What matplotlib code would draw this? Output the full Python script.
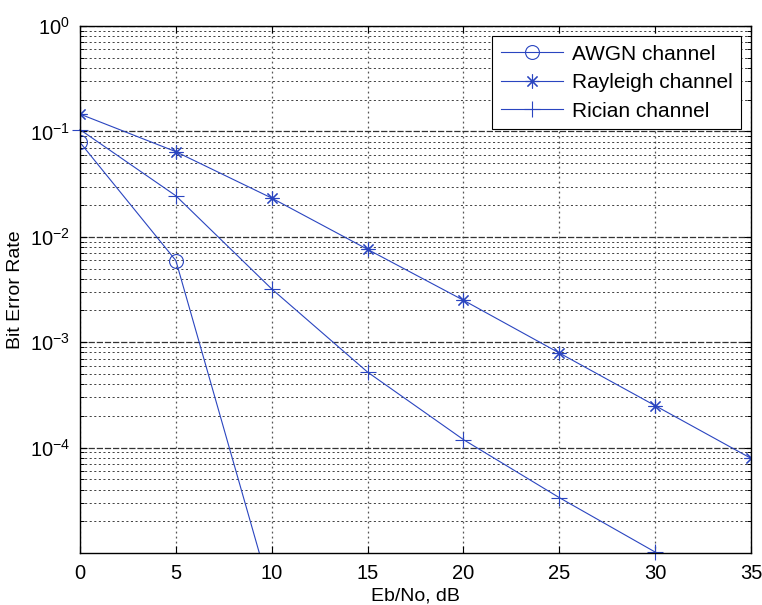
import numpy as np
import matplotlib
matplotlib.use('Agg')
import matplotlib.pyplot as plt
from matplotlib.ticker import LogLocator, NullFormatter, LogFormatterSciNotation

plt.rcParams['font.family'] = ['Liberation Sans', 'DejaVu Sans']
plt.rcParams['mathtext.fontset'] = 'custom'
plt.rcParams['mathtext.rm'] = 'Liberation Sans'
plt.rcParams['mathtext.default'] = 'regular'

# values (Eb/No in dB, BER)
ebno_awgn = [0, 5, 10]
ber_awgn = [0.0786, 5.95e-3, 3.87e-6]

ebno_rayleigh = [0, 5, 10, 15, 20, 25, 30, 35]
ber_rayleigh = [0.146, 0.0642, 0.0233, 7.6e-3, 2.5e-3, 7.9e-4, 2.5e-4, 7.9e-5]

ebno_rician = [0, 5, 10, 15, 20, 25, 30]
ber_rician = [0.104, 0.0245, 3.2e-3, 5.2e-4, 1.19e-4, 3.35e-5, 1.02e-5]

labels = ['AWGN channel', 'Rayleigh channel', 'Rician channel']
color = '#2a45c0'

fig = plt.figure(figsize=(7.62, 6.05), dpi=100)
ax = fig.add_axes([0.105, 0.086, 0.8806, 0.871])

ax.semilogy(ebno_awgn, ber_awgn, color=color, lw=0.8, marker='o', ms=10,
            mfc='none', mec=color, mew=0.8, label=labels[0])
ax.semilogy(ebno_rayleigh, ber_rayleigh, color=color, lw=0.8, marker=(8, 2, 0),
            ms=10, mec=color, mew=0.8, label=labels[1])
ax.semilogy(ebno_rician, ber_rician, color=color, lw=0.8, marker='+', ms=12,
            mec=color, mew=0.8, label=labels[2], clip_on=False)

ax.set_xlim(0, 35)
ax.set_ylim(1e-5, 1)
ax.set_xticks(np.arange(0, 36, 5))
ax.set_yticks([1e-4, 1e-3, 1e-2, 1e-1, 1])
ax.yaxis.set_major_formatter(LogFormatterSciNotation())
ax.yaxis.set_minor_locator(LogLocator(base=10, subs=np.arange(2, 10)))
ax.yaxis.set_minor_formatter(NullFormatter())

ax.grid(which='major', axis='x', color='#555555', ls=(0, (1.5, 2.5)), lw=0.9)
ax.grid(which='major', axis='y', color='#333333', ls=(0, (5, 1.5)), lw=0.9)
ax.grid(which='minor', axis='y', color='#222222', ls=(0, (2.5, 3)), lw=0.6)

ax.tick_params(which='major', direction='in', length=5, width=0.8,
               top=True, right=True, labelsize=14.5, pad=8)
ax.tick_params(axis='y', which='major', pad=7)
ax.tick_params(which='minor', direction='in', length=3, width=0.7,
               top=True, right=True)
for s in ax.spines.values():
    s.set_linewidth(1.0)

ax.set_xlabel('Eb/No, dB', fontsize=14, labelpad=3)
ax.set_ylabel('Bit Error Rate', fontsize=14)
ax.yaxis.set_label_coords(-0.083, 0.5)

leg = ax.legend(loc='upper right', fontsize=15, handlelength=3.0,
                fancybox=False, framealpha=1, edgecolor='black',
                borderaxespad=0.5, labelspacing=0.45, handletextpad=0.4,
                borderpad=0.4)
leg.get_frame().set_linewidth(0.8)

fig.savefig('out.png', dpi=100)
